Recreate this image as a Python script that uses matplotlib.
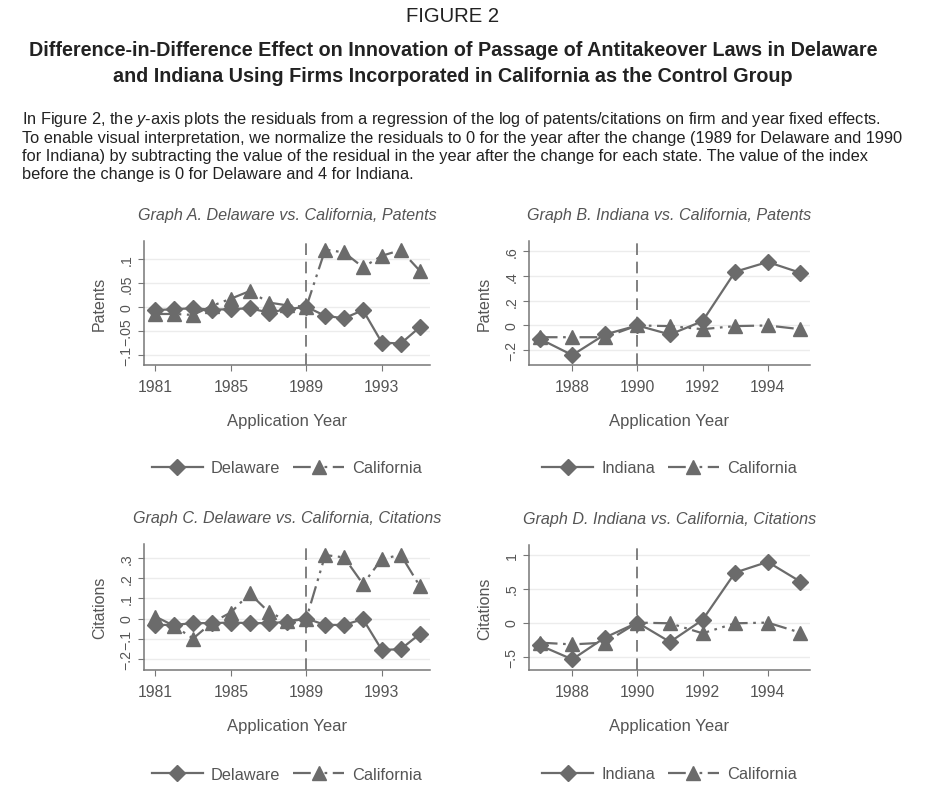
import matplotlib
matplotlib.use("Agg")
import matplotlib.pyplot as plt

plt.rcParams['font.family'] = ['Liberation Sans', 'DejaVu Sans']
plt.rcParams['mathtext.fontset'] = 'custom'
plt.rcParams['mathtext.it'] = 'Liberation Sans:italic'
plt.rcParams['mathtext.rm'] = 'Liberation Sans'

# ---- data ----
years_de = list(range(1981, 1996))
years_in = list(range(1987, 1996))

pat_delaware = [-0.007, -0.005, -0.003, -0.006, -0.005, -0.003, -0.012, -0.005,
                0.0, -0.019, -0.024, -0.007, -0.075, -0.077, -0.043]
pat_calif_a = [-0.015, -0.015, -0.017, 0.002, 0.017, 0.033, 0.009, 0.003,
               0.0, 0.120, 0.114, 0.083, 0.107, 0.119, 0.076]

pat_indiana = [-0.108, -0.240, -0.073, 0.0, -0.073, 0.035, 0.435, 0.514, 0.427]
pat_calif_b = [-0.095, -0.095, -0.095, 0.0, -0.005, -0.030, -0.005, 0.0, -0.030]

cit_delaware = [-0.032, -0.032, -0.023, -0.023, -0.020, -0.023, -0.023, -0.017,
                0.0, -0.032, -0.032, -0.003, -0.157, -0.153, -0.078]
cit_calif_c = [0.010, -0.037, -0.100, -0.020, 0.030, 0.125, 0.033, -0.012,
               0.0, 0.317, 0.305, 0.172, 0.297, 0.318, 0.163]

cit_indiana = [-0.333, -0.540, -0.220, 0.0, -0.284, 0.040, 0.735, 0.892, 0.603]
cit_calif_d = [-0.294, -0.320, -0.294, 0.0, -0.010, -0.157, -0.010, 0.0, -0.147]

xticks_de = [1981, 1985, 1989, 1993]
xticks_in = [1988, 1990, 1992, 1994]

yt_a = [-0.1, -0.05, 0, 0.05, 0.1]
yl_a = ['\u2212.1', '\u2212.05', '0', '.05', '.1']
yt_b = [-0.2, 0, 0.2, 0.4, 0.6]
yl_b = ['\u2212.2', '0', '.2', '.4', '.6']
yt_c = [-0.2, -0.1, 0, 0.1, 0.2, 0.3]
yl_c = ['\u2212.2', '\u2212.1', '0', '.1', '.2', '.3']
yt_d = [-0.5, 0, 0.5, 1]
yl_d = ['\u2212.5', '0', '.5', '1']

GRAY = '#6b6b6b'
TXT = '#555555'

W, H = 940, 803
fig = plt.figure(figsize=(W / 100, H / 100), dpi=100)


def px_axes(l, t, r, b):
    return fig.add_axes([l / W, 1 - b / H, (r - l) / W, (b - t) / H])


def panel(box, title, x, y1, y2, lab1, ylabel, change, xticks, yt, yl, xlim, ylim):
    ax = px_axes(*box)
    ax.plot(x, y1, color=GRAY, lw=1.6, marker='D', ms=8.5, label=lab1, zorder=3)
    ax.plot(x, y2, color=GRAY, lw=1.6, marker='^', ms=10.5, label='California',
            dashes=(8, 2.5, 1.2, 2.5, 1.2, 2.5), zorder=3)
    ax.axvline(change, color=GRAY, lw=1.2, dashes=(7, 4), zorder=2)
    ax.set_xlim(*xlim)
    ax.set_ylim(*ylim)
    ax.set_xticks(xticks)
    ax.set_xticklabels([str(v) for v in xticks])
    ax.set_yticks(yt)
    ax.set_yticklabels(yl, rotation=90, va='center')
    ax.grid(axis='y', color='#ececec', lw=1)
    ax.set_axisbelow(True)
    for s in ['top', 'right']:
        ax.spines[s].set_visible(False)
    for s in ['left', 'bottom']:
        ax.spines[s].set_color('#777777')
        ax.spines[s].set_linewidth(1.1)
    ax.tick_params(colors='#777777', labelcolor=TXT, length=4)
    ax.tick_params(axis='x', pad=6, labelsize=11.3)
    ax.tick_params(axis='y', labelsize=10.2)
    ax.set_title(title, style='italic', color=TXT, fontsize=11.6, pad=16)
    ax.set_xlabel('Application Year', color=TXT, fontsize=12, labelpad=14)
    ax.set_ylabel(ylabel, color=TXT, fontsize=11.5, labelpad=9)
    ax.legend(loc='center', bbox_to_anchor=(0.5, -0.83), ncol=2, frameon=False,
              fontsize=11.8, labelcolor=TXT, handlelength=3.1, columnspacing=0.8,
              handletextpad=0.5)
    return ax


panel((144, 242, 430, 366), 'Graph A. Delaware vs. California, Patents',
      years_de, pat_delaware, pat_calif_a, 'Delaware', 'Patents', 1989,
      xticks_de, yt_a, yl_a, (1980.4, 1995.55), (-0.122, 0.138))
panel((529, 242, 810, 366), 'Graph B. Indiana vs. California, Patents',
      years_in, pat_indiana, pat_calif_b, 'Indiana', 'Patents', 1990,
      xticks_in, yt_b, yl_b, (1986.67, 1995.3), (-0.32, 0.684))
panel((144, 545, 430, 671), 'Graph C. Delaware vs. California, Citations',
      years_de, cit_delaware, cit_calif_c, 'Delaware', 'Citations', 1989,
      xticks_de, yt_c, yl_c, (1980.4, 1995.55), (-0.257, 0.372))
panel((529, 546, 810, 671), 'Graph D. Indiana vs. California, Citations',
      years_in, cit_indiana, cit_calif_d, 'Indiana', 'Citations', 1990,
      xticks_in, yt_d, yl_d, (1986.67, 1995.3), (-0.696, 1.14))

# ---- header text ----
fig.text(453 / W, 1 - 17 / H, 'FIGURE 2', ha='center', va='center',
         fontsize=14.6, color='#222222')
fig.text(453 / W, 1 - 51 / H,
         'Difference-in-Difference Effect on Innovation of Passage of Antitakeover Laws in Delaware',
         ha='center', va='center', fontsize=14.2, weight='bold', color='#222222')
fig.text(453 / W, 1 - 76 / H,
         'and Indiana Using Firms Incorporated in California as the Control Group',
         ha='center', va='center', fontsize=14.2, weight='bold', color='#222222')

para = [
    r'In Figure 2, the $y$-axis plots the residuals from a regression of the log of patents/citations on firm and year fixed effects.',
    'To enable visual interpretation, we normalize the residuals to 0 for the year after the change (1989 for Delaware and 1990',
    'for Indiana) by subtracting the value of the residual in the year after the change for each state. The value of the index',
    'before the change is 0 for Delaware and 4 for Indiana.',
]
for i, line in enumerate(para):
    fig.text(22 / W, 1 - (120 + 18 * i) / H, line, ha='left', va='center',
             fontsize=11.8, color='#222222')

fig.savefig('out.png', dpi=100)
